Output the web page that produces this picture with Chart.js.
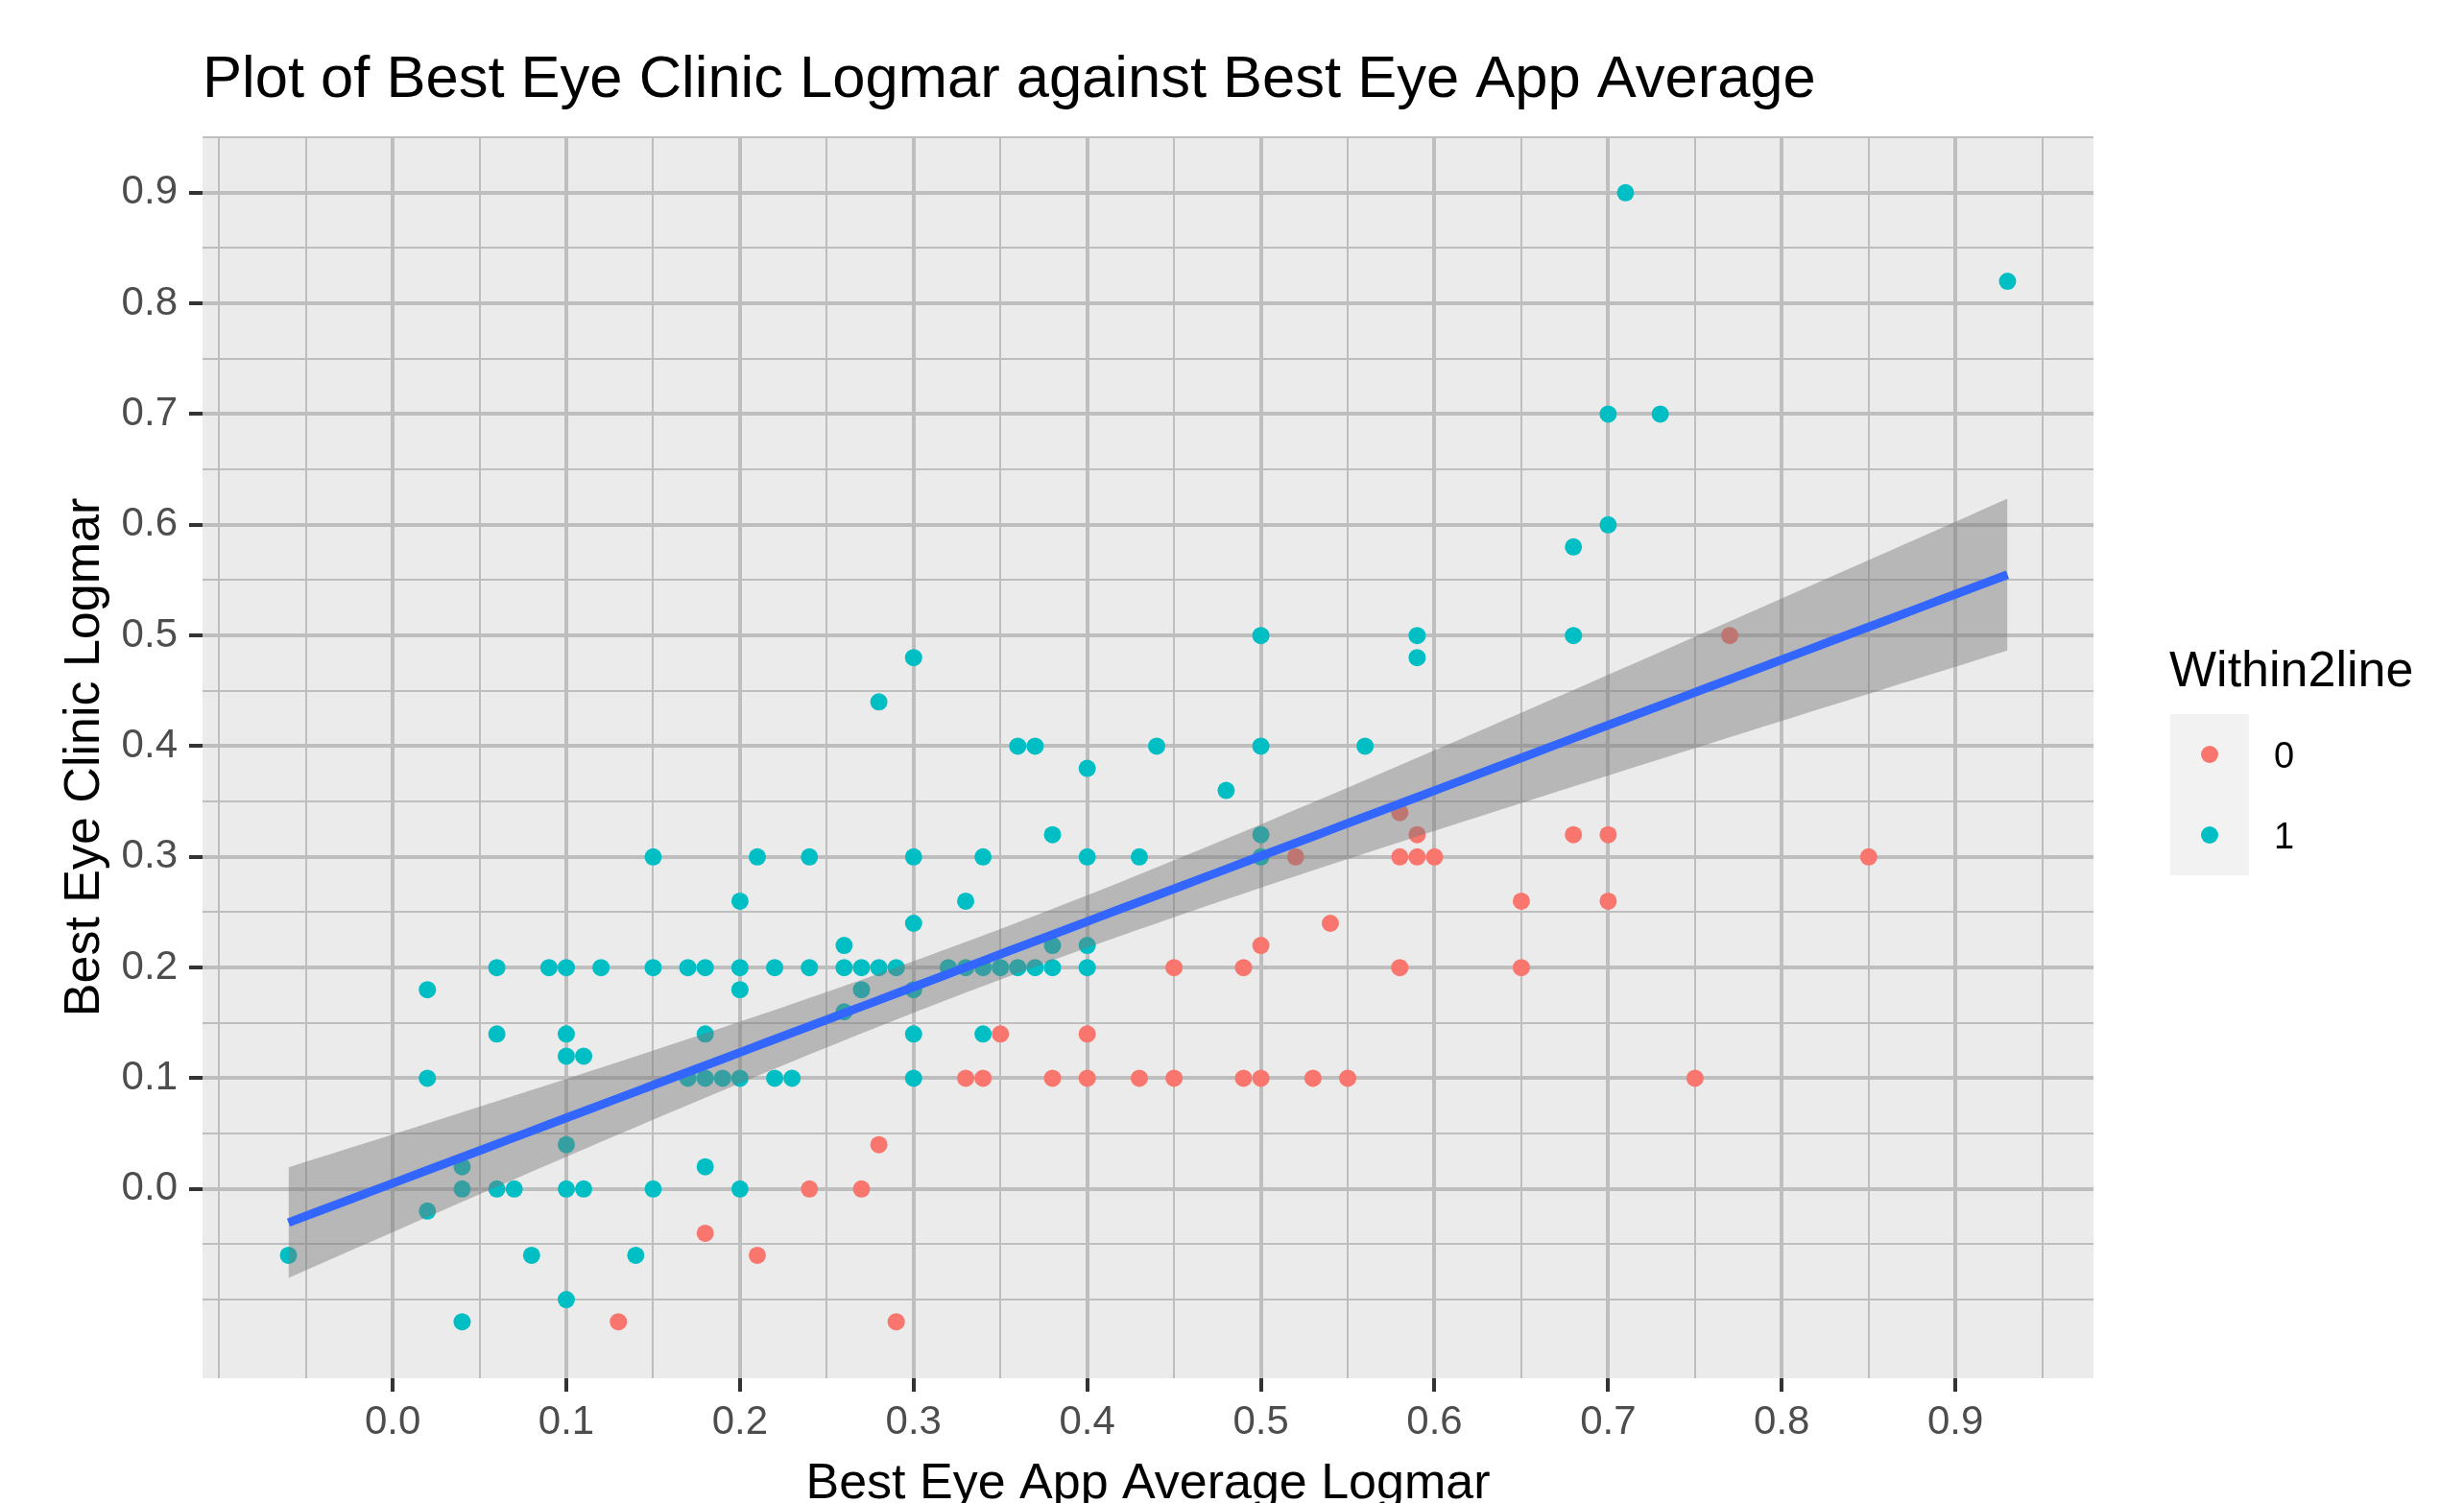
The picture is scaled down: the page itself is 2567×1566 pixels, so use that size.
<!DOCTYPE html>
<html>
<head>
<meta charset="utf-8">
<script src="https://cdn.jsdelivr.net/npm/chart.js@4.4.1/dist/chart.umd.min.js"></script>
<style>
  html, body { margin: 0; padding: 0; background: #ffffff; }
  #wrap { width: 2567px; height: 1566px; }
</style>
</head>
<body>
<div id="wrap"><canvas id="canvas" width="2567" height="1566"></canvas></div>
<script>
// Within2line = 0 (red)
var appAvg0 = [0.77, 0.58, 0.59, 0.68, 0.70, 0.52, 0.58, 0.59, 0.60, 0.85,
               0.65, 0.70, 0.54, 0.50, 0.45, 0.49, 0.58, 0.65, 0.35, 0.40,
               0.33, 0.34, 0.38, 0.40, 0.43, 0.45, 0.49, 0.50, 0.53, 0.55,
               0.75, 0.28, 0.24, 0.27, 0.18, 0.21, 0.13, 0.29];
var clinic0 = [0.50, 0.34, 0.32, 0.32, 0.32, 0.30, 0.30, 0.30, 0.30, 0.30,
               0.26, 0.26, 0.24, 0.22, 0.20, 0.20, 0.20, 0.20, 0.14, 0.14,
               0.10, 0.10, 0.10, 0.10, 0.10, 0.10, 0.10, 0.10, 0.10, 0.10,
               0.10, 0.04, 0.00, 0.00, -0.04, -0.06, -0.12, -0.12];

// Within2line = 1 (teal)
var appAvg1 = [0.71, 0.93, 0.70, 0.73, 0.70, 0.68, 0.50, 0.59, 0.68, 0.30,
               0.59, 0.28, 0.36, 0.37, 0.44, 0.50, 0.56, 0.40, 0.48, 0.38,
               0.50,
               0.15, 0.21, 0.24, 0.30, 0.34, 0.40, 0.43, 0.50,
               0.20, 0.33,
               0.30,
               0.26, 0.38, 0.40,
               0.06, 0.09, 0.10, 0.12, 0.15, 0.17, 0.18, 0.20, 0.22, 0.24,
               0.26, 0.27, 0.28, 0.29, 0.32, 0.33, 0.34, 0.35, 0.36, 0.37,
               0.38, 0.40,
               0.02, 0.20, 0.27, 0.30,
               0.26,
               0.06, 0.10, 0.18, 0.30, 0.34,
               0.10, 0.11,
               0.02, 0.17, 0.18, 0.19, 0.20, 0.22, 0.23, 0.30,
               0.10,
               0.04, 0.18,
               0.04, 0.06, 0.07, 0.10, 0.11, 0.15, 0.20,
               0.02,
               -0.06, 0.08, 0.14,
               0.10,
               0.04];
var clinic1 = [0.90, 0.82, 0.70, 0.70, 0.60, 0.58, 0.50, 0.50, 0.50, 0.48,
               0.48, 0.44, 0.40, 0.40, 0.40, 0.40, 0.40, 0.38, 0.36, 0.32,
               0.32,
               0.30, 0.30, 0.30, 0.30, 0.30, 0.30, 0.30, 0.30,
               0.26, 0.26,
               0.24,
               0.22, 0.22, 0.22,
               0.20, 0.20, 0.20, 0.20, 0.20, 0.20, 0.20, 0.20, 0.20, 0.20,
               0.20, 0.20, 0.20, 0.20, 0.20, 0.20, 0.20, 0.20, 0.20, 0.20,
               0.20, 0.20,
               0.18, 0.18, 0.18, 0.18,
               0.16,
               0.14, 0.14, 0.14, 0.14, 0.14,
               0.12, 0.12,
               0.10, 0.10, 0.10, 0.10, 0.10, 0.10, 0.10, 0.10,
               0.04,
               0.02, 0.02,
               0.00, 0.00, 0.00, 0.00, 0.00, 0.00, 0.00,
               -0.02,
               -0.06, -0.06, -0.06,
               -0.10,
               -0.12];

var xTickValues = [0, 0.1, 0.2, 0.3, 0.4, 0.5, 0.6, 0.7, 0.8, 0.9];
var xTickLabels = ['0.0', '0.1', '0.2', '0.3', '0.4', '0.5', '0.6', '0.7', '0.8', '0.9'];
var yTickValues = [0, 0.1, 0.2, 0.3, 0.4, 0.5, 0.6, 0.7, 0.8, 0.9];
var yTickLabels = ['0.0', '0.1', '0.2', '0.3', '0.4', '0.5', '0.6', '0.7', '0.8', '0.9'];

var groupLabels = ['0', '1'];
var groupColors = ['#F8766D', '#00BFC4'];

function toPoints(xs, ys) {
    return xs.map(function(x, i) { return {x: x, y: ys[i]}; });
}

// lm fit + 95% band, like geom_smooth(method = "lm")
var allX = appAvg0.concat(appAvg1);
var allY = clinic0.concat(clinic1);
var n = allX.length;
var xbar = allX.reduce(function(a, b) { return a + b; }, 0) / n;
var ybar = allY.reduce(function(a, b) { return a + b; }, 0) / n;
var sxx = 0, sxy = 0;
for (var i = 0; i < n; i++) {
    sxx += (allX[i] - xbar) * (allX[i] - xbar);
    sxy += (allX[i] - xbar) * (allY[i] - ybar);
}
var slope = sxy / sxx;
var intercept = ybar - slope * xbar;
var sse = 0;
for (var i = 0; i < n; i++) {
    var r = allY[i] - (intercept + slope * allX[i]);
    sse += r * r;
}
var s2 = sse / (n - 2);
var tCrit = 1.979;

var xLo = Math.min.apply(null, allX), xHi = Math.max.apply(null, allX);
var yLo = Math.min.apply(null, allY), yHi = Math.max.apply(null, allY);
var fitLine = [], bandLower = [], bandUpper = [];
for (var k = 0; k < 80; k++) {
    var xv = xLo + (xHi - xLo) * k / 79;
    var fit = intercept + slope * xv;
    var se = Math.sqrt(s2 * (1 / n + (xv - xbar) * (xv - xbar) / sxx));
    fitLine.push({x: xv, y: fit});
    bandLower.push({x: xv, y: fit - tCrit * se});
    bandUpper.push({x: xv, y: fit + tCrit * se});
}

// ggplot-style 5% expansion
var xMin = xLo - 0.05 * (xHi - xLo), xMax = xHi + 0.05 * (xHi - xLo);
var yMin = yLo - 0.05 * (yHi - yLo), yMax = yHi + 0.05 * (yHi - yLo);

function gridBreaks(major, lo, hi) {
    var step = major[1] - major[0];
    var b = [major[0] - step].concat(major, [major[major.length - 1] + step]);
    var out = [];
    for (var i = 0; i < b.length - 1; i++) {
        out.push(b[i], (b[i] + b[i + 1]) / 2);
    }
    out.push(b[b.length - 1]);
    return out.filter(function(v) { return v >= lo - 1e-9 && v <= hi + 1e-9; });
}

function majorIndex(values, v) {
    for (var i = 0; i < values.length; i++) {
        if (Math.abs(values[i] - v) < 1e-7) return i;
    }
    return -1;
}

var AREA = {left: 211, top: 142, right: 2181, bottom: 1436};
var FONT = "'Liberation Sans', Arial, sans-serif";

var ggDecor = {
    id: 'ggDecor',
    beforeDraw: function(chart) {
        var ctx = chart.ctx, a = chart.chartArea;
        ctx.save();
        ctx.fillStyle = '#ffffff';
        ctx.fillRect(0, 0, chart.width, chart.height);
        ctx.fillStyle = '#EBEBEB';
        ctx.fillRect(a.left, a.top, a.right - a.left, a.bottom - a.top);
        ctx.restore();
    },
    afterDraw: function(chart) {
        var ctx = chart.ctx;
        ctx.save();
        ctx.fillStyle = '#000000';
        ctx.textAlign = 'left';
        ctx.textBaseline = 'alphabetic';
        ctx.font = '61.5px ' + FONT;
        ctx.fillText('Plot of Best Eye Clinic Logmar against Best Eye App Average', 211, 101);

        // legend
        ctx.font = '52px ' + FONT;
        ctx.fillText('Within2line', 2260, 715);
        for (var g = 0; g < groupLabels.length; g++) {
            var top = 744 + g * 84;
            ctx.fillStyle = '#F2F2F2';
            ctx.fillRect(2261, top, 82, 84);
            ctx.fillStyle = groupColors[g];
            ctx.beginPath();
            ctx.arc(2302, top + 42, 9, 0, Math.PI * 2);
            ctx.fill();
            ctx.fillStyle = '#000000';
            ctx.font = '38px ' + FONT;
            ctx.textBaseline = 'middle';
            ctx.fillText(groupLabels[g], 2369, top + 46);
            ctx.textBaseline = 'alphabetic';
        }
        ctx.restore();
    }
};

function gridOpts(values) {
    return {
        color: '#BEBEBE',
        lineWidth: function(c) { return c.tick && majorIndex(values, c.tick.value) >= 0 ? 4 : 2; },
        drawTicks: true,
        tickLength: 14,
        tickWidth: 4,
        tickColor: function(c) { return c.tick && majorIndex(values, c.tick.value) >= 0 ? '#333333' : 'rgba(0,0,0,0)'; }
    };
}

Chart.defaults.font.family = FONT;

var config = {
    type: 'scatter',
    data: {
        datasets: [{
            label: groupLabels[0],
            data: toPoints(appAvg0, clinic0),
            backgroundColor: groupColors[0],
            pointRadius: 9,
            pointBorderWidth: 0,
            order: 4
        }, {
            label: groupLabels[1],
            data: toPoints(appAvg1, clinic1),
            backgroundColor: groupColors[1],
            pointRadius: 9,
            pointBorderWidth: 0,
            order: 4
        }, {
            type: 'line',
            data: bandLower,
            borderWidth: 0,
            borderColor: 'rgba(0,0,0,0)',
            pointRadius: 0,
            fill: false,
            order: 3
        }, {
            type: 'line',
            data: bandUpper,
            borderWidth: 0,
            borderColor: 'rgba(0,0,0,0)',
            backgroundColor: 'rgba(120,120,120,0.45)',
            pointRadius: 0,
            fill: '-1',
            order: 2
        }, {
            type: 'line',
            data: fitLine,
            borderColor: '#3366FF',
            borderWidth: 9,
            pointRadius: 0,
            fill: false,
            order: 1
        }]
    },
    options: {
        responsive: false,
        devicePixelRatio: 1,
        animation: false,
        events: [],
        layout: {
            padding: {left: 0, top: AREA.top, right: 2567 - AREA.right, bottom: 0}
        },
        plugins: {
            legend: {display: false},
            tooltip: {enabled: false},
            title: {display: false}
        },
        scales: {
            x: {
                type: 'linear',
                min: xMin,
                max: xMax,
                border: {display: false},
                grid: gridOpts(xTickValues),
                afterBuildTicks: function(scale) {
                    scale.ticks = gridBreaks(xTickValues, xMin, xMax).map(function(v) { return {value: v}; });
                },
                afterFit: function(scale) { scale.height = 1566 - AREA.bottom; },
                ticks: {
                    autoSkip: false,
                    maxRotation: 0,
                    padding: 7,
                    color: '#4D4D4D',
                    font: {size: 42},
                    callback: function(v) {
                        var i = majorIndex(xTickValues, v);
                        return i >= 0 ? xTickLabels[i] : '';
                    }
                },
                title: {
                    display: true,
                    text: 'Best Eye App Average Logmar',
                    color: '#000000',
                    font: {size: 52, lineHeight: 0.75},
                    padding: 0
                }
            },
            y: {
                type: 'linear',
                min: yMin,
                max: yMax,
                border: {display: false},
                grid: gridOpts(yTickValues),
                afterBuildTicks: function(scale) {
                    scale.ticks = gridBreaks(yTickValues, yMin, yMax).map(function(v) { return {value: v}; });
                },
                afterFit: function(scale) { scale.width = AREA.left; },
                ticks: {
                    autoSkip: false,
                    padding: 12,
                    color: '#4D4D4D',
                    font: {size: 42},
                    callback: function(v) {
                        var i = majorIndex(yTickValues, v);
                        return i >= 0 ? yTickLabels[i] : '';
                    }
                },
                title: {
                    display: true,
                    text: 'Best Eye Clinic Logmar',
                    color: '#000000',
                    font: {size: 52, lineHeight: 0.8},
                    padding: {top: 68, bottom: 0}
                }
            }
        }
    },
    plugins: [ggDecor]
};

var ctx = document.getElementById('canvas').getContext('2d');
window.myScatter = new Chart(ctx, config);
</script>
</body>
</html>
